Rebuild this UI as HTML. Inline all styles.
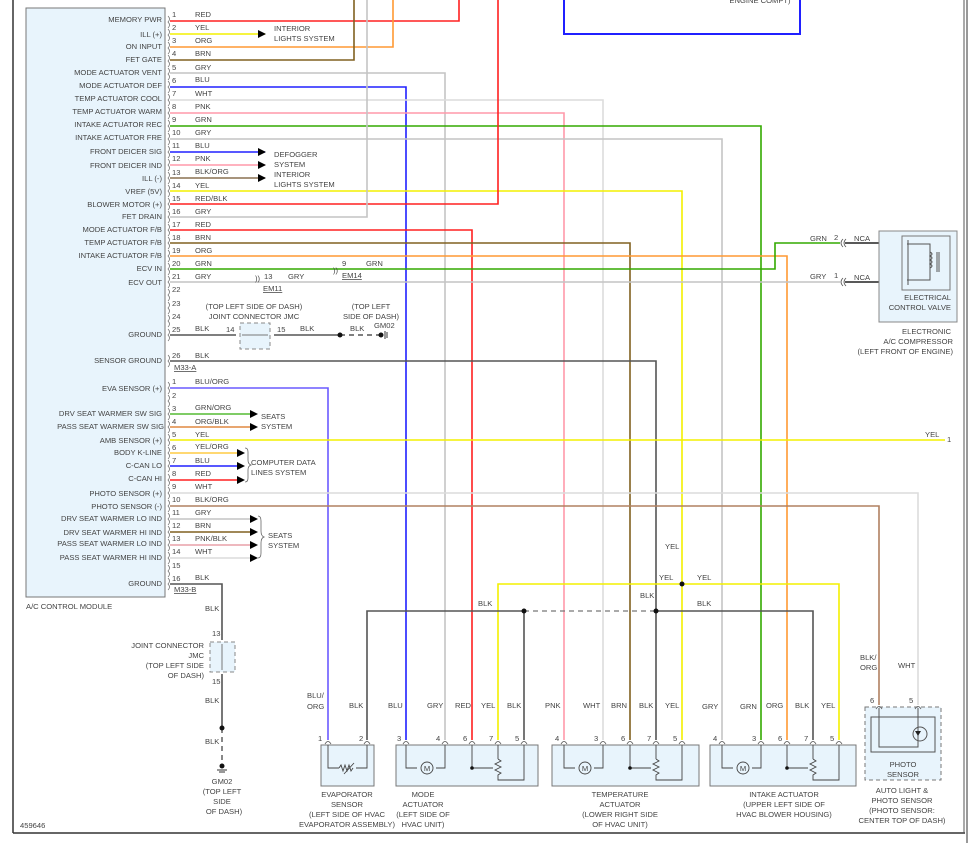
<!DOCTYPE html>
<html><head><meta charset="utf-8"><style>
html,body{margin:0;padding:0;background:#fff;}
svg{display:block;}
text{font-family:"Liberation Sans",sans-serif;font-size:7.6px;fill:#444;}
.r{text-anchor:end;}
.m{text-anchor:middle;}
</style></head><body>
<svg width="971" height="843" viewBox="0 0 971 843" xmlns="http://www.w3.org/2000/svg">
<!-- border -->
<line x1="13" y1="0" x2="13" y2="833" stroke="#333" stroke-width="1.5"/>
<line x1="13" y1="833" x2="965" y2="833" stroke="#333" stroke-width="1.5"/>
<line x1="964" y1="0" x2="964" y2="833" stroke="#555" stroke-width="1"/>
<line x1="967" y1="0" x2="967" y2="843" stroke="#333" stroke-width="1"/>

<!-- top blue box -->
<rect x="564" y="-5" width="236" height="39" fill="none" stroke="#2020ff" stroke-width="2"/>
<text x="760" y="3" class="m">ENGINE COMPT)</text>

<!-- module box -->
<rect x="26" y="8" width="139" height="589" fill="#e8f4fc" stroke="#777" stroke-width="1"/>
<text x="26" y="609">A/C CONTROL MODULE</text>

<g class="r">
<text x="162" y="22" class="r">MEMORY PWR</text>
<text x="162" y="37" class="r">ILL (+)</text>
<text x="162" y="49" class="r">ON INPUT</text>
<text x="162" y="62" class="r">FET GATE</text>
<text x="162" y="75" class="r">MODE ACTUATOR VENT</text>
<text x="162" y="88" class="r">MODE ACTUATOR DEF</text>
<text x="162" y="101" class="r">TEMP ACTUATOR COOL</text>
<text x="162" y="114" class="r">TEMP ACTUATOR WARM</text>
<text x="162" y="127" class="r">INTAKE ACTUATOR REC</text>
<text x="162" y="140" class="r">INTAKE ACTUATOR FRE</text>
<text x="162" y="154" class="r">FRONT DEICER SIG</text>
<text x="162" y="168" class="r">FRONT DEICER IND</text>
<text x="162" y="181" class="r">ILL (-)</text>
<text x="162" y="194" class="r">VREF (5V)</text>
<text x="162" y="207" class="r">BLOWER MOTOR (+)</text>
<text x="162" y="219" class="r">FET DRAIN</text>
<text x="162" y="232" class="r">MODE ACTUATOR F/B</text>
<text x="162" y="245" class="r">TEMP ACTUATOR F/B</text>
<text x="162" y="258" class="r">INTAKE ACTUATOR F/B</text>
<text x="162" y="271" class="r">ECV IN</text>
<text x="162" y="285" class="r">ECV OUT</text>
<text x="162" y="337" class="r">GROUND</text>
<text x="162" y="363" class="r">SENSOR GROUND</text>
<text x="162" y="391" class="r">EVA SENSOR (+)</text>
<text x="162" y="416" class="r">DRV SEAT WARMER SW SIG</text>
<text x="164" y="429" class="r">PASS SEAT WARMER SW SIG</text>
<text x="162" y="443" class="r">AMB SENSOR (+)</text>
<text x="162" y="455" class="r">BODY K-LINE</text>
<text x="162" y="468" class="r">C-CAN LO</text>
<text x="162" y="481" class="r">C-CAN HI</text>
<text x="162" y="496" class="r">PHOTO SENSOR (+)</text>
<text x="162" y="509" class="r">PHOTO SENSOR (-)</text>
<text x="162" y="521" class="r">DRV SEAT WARMER LO IND</text>
<text x="162" y="535" class="r">DRV SEAT WARMER HI IND</text>
<text x="162" y="546" class="r">PASS SEAT WARMER LO IND</text>
<text x="162" y="560" class="r">PASS SEAT WARMER HI IND</text>
<text x="162" y="586" class="r">GROUND</text>
</g>

<!-- connector brackets -->
<g fill="none" stroke="#666" stroke-width="0.7">
<path d="M168 16 q3 3 0 6 q3 3 0 6 M168 29 q3 3 0 6 q3 3 0 6 M168 42 q3 3 0 6 q3 3 0 6 M168 55 q3 3 0 6 q3 3 0 6 M168 68 q3 3 0 6 q3 3 0 6 M168 81 q3 3 0 6 q3 3 0 6 M168 94 q3 3 0 6 q3 3 0 6 M168 107 q3 3 0 6 q3 3 0 6 M168 120 q3 3 0 6 q3 3 0 6 M168 133 q3 3 0 6 q3 3 0 6 M168 146 q3 3 0 6 q3 3 0 6 M168 159 q3 3 0 6 q3 3 0 6 M168 172 q3 3 0 6 q3 3 0 6 M168 185 q3 3 0 6 q3 3 0 6 M168 198 q3 3 0 6 q3 3 0 6 M168 211 q3 3 0 6 q3 3 0 6 M168 224 q3 3 0 6 q3 3 0 6 M168 237 q3 3 0 6 q3 3 0 6 M168 250 q3 3 0 6 q3 3 0 6 M168 263 q3 3 0 6 q3 3 0 6 M168 276 q3 3 0 6 q3 3 0 6 M168 289 q3 3 0 6 q3 3 0 6 M168 302 q3 3 0 6 q3 3 0 6 M168 315 q3 3 0 6 q3 3 0 6 M168 329 q3 3 0 6 q3 3 0 6 M168 355 q3 3 0 6 q3 3 0 6"/>
<path d="M168 382 q3 3 0 6 q3 3 0 6 M168 395 q3 3 0 6 q3 3 0 6 M168 408 q3 3 0 6 q3 3 0 6 M168 421 q3 3 0 6 q3 3 0 6 M168 434 q3 3 0 6 q3 3 0 6 M168 447 q3 3 0 6 q3 3 0 6 M168 460 q3 3 0 6 q3 3 0 6 M168 474 q3 3 0 6 q3 3 0 6 M168 487 q3 3 0 6 q3 3 0 6 M168 500 q3 3 0 6 q3 3 0 6 M168 513 q3 3 0 6 q3 3 0 6 M168 526 q3 3 0 6 q3 3 0 6 M168 539 q3 3 0 6 q3 3 0 6 M168 552 q3 3 0 6 q3 3 0 6 M168 565 q3 3 0 6 q3 3 0 6 M168 578 q3 3 0 6 q3 3 0 6"/>
</g>

<!-- pin numbers & wire labels top -->
<g>
<text x="172" y="17">1</text><text x="195" y="17">RED</text>
<text x="172" y="30">2</text><text x="195" y="30">YEL</text>
<text x="172" y="43">3</text><text x="195" y="43">ORG</text>
<text x="172" y="56">4</text><text x="195" y="56">BRN</text>
<text x="172" y="70">5</text><text x="195" y="70">GRY</text>
<text x="172" y="83">6</text><text x="195" y="82">BLU</text>
<text x="172" y="96">7</text><text x="195" y="96">WHT</text>
<text x="172" y="109">8</text><text x="195" y="109">PNK</text>
<text x="172" y="122">9</text><text x="195" y="122">GRN</text>
<text x="172" y="135">10</text><text x="195" y="135">GRY</text>
<text x="172" y="148">11</text><text x="195" y="148">BLU</text>
<text x="172" y="161">12</text><text x="195" y="161">PNK</text>
<text x="172" y="175">13</text><text x="195" y="174">BLK/ORG</text>
<text x="172" y="188">14</text><text x="195" y="188">YEL</text>
<text x="172" y="201">15</text><text x="195" y="201">RED/BLK</text>
<text x="172" y="214">16</text><text x="195" y="214">GRY</text>
<text x="172" y="227">17</text><text x="195" y="227">RED</text>
<text x="172" y="240">18</text><text x="195" y="240">BRN</text>
<text x="172" y="253">19</text><text x="195" y="253">ORG</text>
<text x="172" y="266">20</text><text x="195" y="266">GRN</text>
<text x="172" y="279">21</text><text x="195" y="279">GRY</text>
<text x="172" y="292">22</text>
<text x="172" y="306">23</text>
<text x="172" y="319">24</text>
<text x="172" y="332">25</text><text x="195" y="331">BLK</text>
<text x="172" y="358">26</text><text x="195" y="358">BLK</text>
<text x="174" y="370" text-decoration="underline">M33-A</text>
</g>
<g>
<text x="172" y="384">1</text><text x="195" y="384">BLU/ORG</text>
<text x="172" y="398">2</text>
<text x="172" y="411">3</text><text x="195" y="410">GRN/ORG</text>
<text x="172" y="424">4</text><text x="195" y="424">ORG/BLK</text>
<text x="172" y="437">5</text><text x="195" y="437">YEL</text>
<text x="172" y="450">6</text><text x="195" y="449">YEL/ORG</text>
<text x="172" y="463">7</text><text x="195" y="463">BLU</text>
<text x="172" y="476">8</text><text x="195" y="476">RED</text>
<text x="172" y="489">9</text><text x="195" y="489">WHT</text>
<text x="172" y="502">10</text><text x="195" y="502">BLK/ORG</text>
<text x="172" y="515">11</text><text x="195" y="515">GRY</text>
<text x="172" y="528">12</text><text x="195" y="528">BRN</text>
<text x="172" y="541">13</text><text x="195" y="541">PNK/BLK</text>
<text x="172" y="554">14</text><text x="195" y="554">WHT</text>
<text x="172" y="568">15</text>
<text x="172" y="581">16</text><text x="195" y="580">BLK</text>
<text x="174" y="592" text-decoration="underline">M33-B</text>
</g>

<!-- wires -->
<g fill="none" stroke-width="1.6">
<polyline points="170,21 459,21 459,0" stroke="#ff2020"/>
<polyline points="170,34 265,34" stroke="#f4f000"/>
<polyline points="170,47 393,47 393,0" stroke="#ff9933"/>
<polyline points="170,60 354,60 354,0" stroke="#806020"/>
<polyline points="170,73 445,73 445,740" stroke="#c4c4c4"/>
<polyline points="170,87 406,87 406,740" stroke="#2020ff"/>
<polyline points="170,100 603,100 603,740" stroke="#dcdcdc"/>
<polyline points="170,113 564,113 564,740" stroke="#ff99aa"/>
<polyline points="170,126 761,126 761,740" stroke="#33aa00"/>
<polyline points="170,139 722,139 722,740" stroke="#c4c4c4"/>
<polyline points="170,152 265,152" stroke="#2020ff"/>
<polyline points="170,165 265,165" stroke="#ff99aa"/>
<polyline points="170,178 265,178" stroke="#8a7050"/>
<polyline points="170,191 682,191 682,740" stroke="#f4f000"/>
<polyline points="170,204 498,204 498,0" stroke="#ff2020"/>
<polyline points="170,217 367,217 367,0" stroke="#c4c4c4"/>
<polyline points="170,230 472,230 472,740" stroke="#ff2020"/>
<polyline points="170,243 630,243 630,740" stroke="#806020"/>
<polyline points="170,256 787,256 787,740" stroke="#ff9933"/>
<polyline points="170,269 775,269 775,243 840,243" stroke="#33aa00"/>
<polyline points="170,282 840,282" stroke="#c4c4c4"/>
<polyline points="170,335 236,335" stroke="#555"/>
<polyline points="274,335 340,335" stroke="#555"/>
<polyline points="170,361 656,361 656,740" stroke="#555"/>
<polyline points="170,388 328,388 328,740" stroke="#6a5aff"/>
<polyline points="170,414 250,414" stroke="#55bb33"/>
<polyline points="170,427 250,427" stroke="#e08840"/>
<polyline points="170,440 945,440" stroke="#f4f000"/>
<polyline points="170,453 237,453" stroke="#ffcc44"/>
<polyline points="170,466 237,466" stroke="#2020ff"/>
<polyline points="170,480 237,480" stroke="#ff2020"/>
<polyline points="170,493 918,493 918,705" stroke="#dcdcdc"/>
<polyline points="170,506 879,506 879,705" stroke="#b08060"/>
<polyline points="170,519 250,519" stroke="#c4c4c4"/>
<polyline points="170,532 250,532" stroke="#806020"/>
<polyline points="170,545 250,545" stroke="#e8a0a8"/>
<polyline points="170,558 250,558" stroke="#dcdcdc"/>
<polyline points="170,584 222,584 222,640" stroke="#555"/>
<polyline points="222,674 222,728" stroke="#555"/>
<polyline points="498,740 498,584 839,584 839,740" stroke="#f4f000"/>
<polyline points="367,740 367,611 524,611 524,740" stroke="#555"/>
<polyline points="656,611 813,611 813,740" stroke="#555"/>
</g>
<line x1="524" y1="611" x2="656" y2="611" stroke="#777" stroke-width="1.2" stroke-dasharray="5,4"/>
<line x1="340" y1="335" x2="380" y2="335" stroke="#555" stroke-width="1.4" stroke-dasharray="5,4"/>
<line x1="222" y1="728" x2="222" y2="766" stroke="#555" stroke-width="1.4" stroke-dasharray="5,4"/>
<g fill="#111">
<circle cx="524" cy="611" r="2.5"/><circle cx="656" cy="611" r="2.5"/><circle cx="682" cy="584" r="2.5"/>
<circle cx="340" cy="335" r="2.5"/><circle cx="381" cy="335" r="2.5"/>
<circle cx="222" cy="728" r="2.5"/><circle cx="222" cy="766" r="2.5"/>
</g>
<g stroke="#333" stroke-width="1"><line x1="385" y1="331" x2="385" y2="339"/><line x1="387" y1="332" x2="387" y2="338"/><line x1="217" y1="770" x2="227" y2="770"/><line x1="219" y1="772" x2="225" y2="772"/></g>

<!-- arrows -->
<g fill="#000">
<polygon points="258,30 266,34 258,38"/>
<polygon points="258,148 266,152 258,156"/><polygon points="258,161 266,165 258,169"/><polygon points="258,174 266,178 258,182"/>
<polygon points="250,410 258,414 250,418"/><polygon points="250,423 258,427 250,431"/>
<polygon points="237,449 245,453 237,457"/><polygon points="237,462 245,466 237,470"/><polygon points="237,476 245,480 237,484"/>
<polygon points="250,515 258,519 250,523"/><polygon points="250,528 258,532 250,536"/><polygon points="250,541 258,545 250,549"/><polygon points="250,554 258,558 250,562"/>
</g>
<g fill="none" stroke="#666" stroke-width="0.8">
<path d="M245 448 q3 0 3 4 v8 q0 4 3 5 q-3 1 -3 5 v8 q0 4 -3 4"/>
<path d="M258 516 q3 0 3 5 v10 q0 5 3 6 q-3 1 -3 6 v10 q0 5 -3 5"/>
</g>
<text x="274" y="31">INTERIOR</text><text x="274" y="41">LIGHTS SYSTEM</text>
<text x="274" y="157">DEFOGGER</text><text x="274" y="167">SYSTEM</text>
<text x="274" y="177">INTERIOR</text><text x="274" y="187">LIGHTS SYSTEM</text>
<text x="261" y="419">SEATS</text><text x="261" y="429">SYSTEM</text>
<text x="251" y="465">COMPUTER DATA</text><text x="251" y="475">LINES SYSTEM</text>
<text x="268" y="538">SEATS</text><text x="268" y="548">SYSTEM</text>

<!-- EM connectors -->
<text x="255" y="281" fill="#444">))</text><text x="264" y="279">13</text><text x="288" y="279">GRY</text><text x="263" y="291" text-decoration="underline">EM11</text>
<text x="333" y="273">))</text><text x="342" y="266">9</text><text x="366" y="266">GRN</text><text x="342" y="278" text-decoration="underline">EM14</text>

<!-- JMC top -->
<text x="254" y="309" class="m">(TOP LEFT SIDE OF DASH)</text>
<text x="254" y="319" class="m">JOINT CONNECTOR JMC</text>
<rect x="240" y="323" width="30" height="26" fill="#e8f4fc" stroke="#888" stroke-dasharray="4,3"/>
<line x1="242" y1="335" x2="268" y2="335" stroke="#777"/>
<text x="226" y="332">14</text><text x="277" y="332">15</text><text x="300" y="331">BLK</text>
<text x="350" y="331">BLK</text><text x="374" y="328">GM02</text>
<text x="371" y="309" class="m">(TOP LEFT</text><text x="371" y="319" class="m">SIDE OF DASH)</text>

<!-- JMC left bottom -->
<text x="205" y="611">BLK</text>
<text x="212" y="636">13</text>
<rect x="210" y="642" width="25" height="30" fill="#e8f4fc" stroke="#888" stroke-dasharray="4,3"/>
<line x1="222" y1="644" x2="222" y2="670" stroke="#777"/>
<text x="204" y="648" class="r">JOINT CONNECTOR</text><text x="204" y="658" class="r">JMC</text>
<text x="204" y="668" class="r">(TOP LEFT SIDE</text><text x="204" y="678" class="r">OF DASH)</text>
<text x="212" y="684">15</text>
<text x="205" y="703">BLK</text>
<text x="205" y="744">BLK</text>
<text x="222" y="784" class="m">GM02</text><text x="222" y="794" class="m">(TOP LEFT</text><text x="222" y="804" class="m">SIDE</text><text x="224" y="814" class="m">OF DASH)</text>

<!-- ECV -->
<text x="810" y="241">GRN</text><text x="834" y="240">2</text><text x="854" y="241">NCA</text>
<text x="810" y="279">GRY</text><text x="834" y="278">1</text><text x="854" y="280">NCA</text>
<g stroke="#222" stroke-width="1.4"><line x1="845" y1="243" x2="906" y2="243"/><line x1="845" y1="282" x2="906" y2="282"/></g>
<g fill="none" stroke="#555" stroke-width="0.8"><path d="M843 239 q-4 4 0 8 M846 239 q-4 4 0 8 M843 278 q-4 4 0 8 M846 278 q-4 4 0 8"/></g>
<rect x="879" y="231" width="78" height="91" fill="#e8f4fc" stroke="#888"/>
<rect x="902" y="236" width="48" height="54" fill="none" stroke="#777"/>
<polyline points="907,244 930,244 930,280 907,280" fill="none" stroke="#555"/>
<line x1="908" y1="240" x2="908" y2="285" stroke="#555"/>
<path d="M930 252 q4 2 0 4 q4 2 0 4 q4 2 0 4 q4 2 0 4" fill="none" stroke="#555"/>
<line x1="937" y1="252" x2="937" y2="272" stroke="#555"/><line x1="939" y1="252" x2="939" y2="272" stroke="#555"/>
<text x="951" y="300" class="r">ELECTRICAL</text><text x="951" y="310" class="r">CONTROL VALVE</text>
<text x="951" y="334" class="r">ELECTRONIC</text><text x="953" y="344" class="r">A/C COMPRESSOR</text><text x="953" y="354" class="r">(LEFT FRONT OF ENGINE)</text>
<text x="925" y="437">YEL</text><text x="947" y="442">1</text>

<!-- misc top-area labels -->
<text x="665" y="549">YEL</text>
<text x="659" y="580">YEL</text><text x="697" y="580">YEL</text>
<text x="478" y="606">BLK</text><text x="640" y="598">BLK</text><text x="697" y="606">BLK</text>

<!-- bottom labels -->
<text x="307" y="698">BLU/</text><text x="307" y="709">ORG</text>
<text x="349" y="708">BLK</text>
<text x="388" y="708">BLU</text><text x="427" y="708">GRY</text><text x="455" y="708">RED</text><text x="481" y="708">YEL</text><text x="507" y="708">BLK</text>
<text x="545" y="708">PNK</text><text x="583" y="708">WHT</text><text x="611" y="708">BRN</text><text x="639" y="708">BLK</text><text x="665" y="708">YEL</text>
<text x="702" y="709">GRY</text><text x="740" y="709">GRN</text><text x="766" y="708">ORG</text><text x="795" y="708">BLK</text><text x="821" y="708">YEL</text>
<text x="860" y="660">BLK/</text><text x="860" y="670">ORG</text><text x="898" y="668">WHT</text>

<!-- components -->
<g fill="#e8f4fc" stroke="#777">
<rect x="321" y="745" width="53" height="41"/>
<rect x="396" y="745" width="142" height="41"/>
<rect x="552" y="745" width="147" height="41"/>
<rect x="710" y="745" width="146" height="41"/>
<rect x="865" y="707" width="76" height="73" stroke-dasharray="4,3"/>
</g>
<rect x="871" y="717" width="64" height="35" fill="none" stroke="#555"/>
<polyline points="879,708 879,747 918,747 918,708" fill="none" stroke="#555"/>
<circle cx="920" cy="734" r="7" fill="none" stroke="#555"/>
<polygon points="915,731 921,731 918,736" fill="#222"/>
<text x="903" y="767" class="m">PHOTO</text><text x="903" y="777" class="m">SENSOR</text>

<!-- pin caps -->
<g fill="none" stroke="#555" stroke-width="0.8">
<path d="M325 744 q3 -5 6 0 M364 744 q3 -5 6 0 M403 744 q3 -5 6 0 M442 744 q3 -5 6 0 M469 744 q3 -5 6 0 M495 744 q3 -5 6 0 M521 744 q3 -5 6 0 M561 744 q3 -5 6 0 M600 744 q3 -5 6 0 M627 744 q3 -5 6 0 M653 744 q3 -5 6 0 M679 744 q3 -5 6 0 M719 744 q3 -5 6 0 M758 744 q3 -5 6 0 M784 744 q3 -5 6 0 M810 744 q3 -5 6 0 M836 744 q3 -5 6 0 M876 709 q3 -5 6 0 M915 709 q3 -5 6 0"/>
</g>
<g>
<text x="318" y="741">1</text><text x="359" y="741">2</text>
<text x="397" y="741">3</text><text x="436" y="741">4</text><text x="463" y="741">6</text><text x="489" y="741">7</text><text x="515" y="741">5</text>
<text x="555" y="741">4</text><text x="594" y="741">3</text><text x="621" y="741">6</text><text x="647" y="741">7</text><text x="673" y="741">5</text>
<text x="713" y="741">4</text><text x="752" y="741">3</text><text x="778" y="741">6</text><text x="804" y="741">7</text><text x="830" y="741">5</text>
<text x="870" y="703">6</text><text x="909" y="703">5</text>
</g>
<!-- inner component circuitry -->
<g fill="none" stroke="#444" stroke-width="0.9">
<polyline points="328,745 328,768 339,768"/><polyline points="367,745 367,768 356,768"/>
<path d="M339 768 l2 -3 l2 6 l2 -6 l2 6 l2 -6 l2 6 l2 -3"/><line x1="344" y1="774" x2="354" y2="763"/>
<polyline points="406,745 406,768 417,768"/><polyline points="445,745 445,768 436,768"/><circle cx="427" cy="768" r="6"/>
<polyline points="472,745 472,768 493,768"/><polyline points="498,745 498,759"/><path d="M498 759 l3 2 l-6 3 l6 3 l-6 3 l6 3 l-3 2 v5 h26 v-35"/>
<polyline points="564,745 564,768 575,768"/><polyline points="603,745 603,768 594,768"/><circle cx="585" cy="768" r="6"/>
<polyline points="630,745 630,768 651,768"/><polyline points="656,745 656,759"/><path d="M656 759 l3 2 l-6 3 l6 3 l-6 3 l6 3 l-3 2 v5 h26 v-35"/>
<polyline points="722,745 722,768 733,768"/><polyline points="761,745 761,768 752,768"/><circle cx="743" cy="768" r="6"/>
<polyline points="787,745 787,768 808,768"/><polyline points="813,745 813,759"/><path d="M813 759 l3 2 l-6 3 l6 3 l-6 3 l6 3 l-3 2 v5 h26 v-35"/>
</g>
<g font-size="7"><text x="427" y="771" class="m">M</text><text x="585" y="771" class="m">M</text><text x="743" y="771" class="m">M</text></g>
<g fill="#111"><circle cx="472" cy="768" r="1.8"/><circle cx="630" cy="768" r="1.8"/><circle cx="787" cy="768" r="1.8"/></g>

<g class="m">
<text x="347" y="797" class="m">EVAPORATOR</text><text x="347" y="807" class="m">SENSOR</text><text x="347" y="817" class="m">(LEFT SIDE OF HVAC</text><text x="347" y="827" class="m">EVAPORATOR ASSEMBLY)</text>
<text x="423" y="797" class="m">MODE</text><text x="423" y="807" class="m">ACTUATOR</text><text x="423" y="817" class="m">(LEFT SIDE OF</text><text x="423" y="827" class="m">HVAC UNIT)</text>
<text x="620" y="797" class="m">TEMPERATURE</text><text x="620" y="807" class="m">ACTUATOR</text><text x="620" y="817" class="m">(LOWER RIGHT SIDE</text><text x="620" y="827" class="m">OF HVAC UNIT)</text>
<text x="784" y="797" class="m">INTAKE ACTUATOR</text><text x="784" y="807" class="m">(UPPER LEFT SIDE OF</text><text x="784" y="817" class="m">HVAC BLOWER HOUSING)</text>
<text x="902" y="793" class="m">AUTO LIGHT &amp;</text><text x="902" y="803" class="m">PHOTO SENSOR</text><text x="902" y="813" class="m">(PHOTO SENSOR:</text><text x="902" y="823" class="m">CENTER TOP OF DASH)</text>
</g>
<text x="20" y="828">459646</text>
</svg>
</body></html>
